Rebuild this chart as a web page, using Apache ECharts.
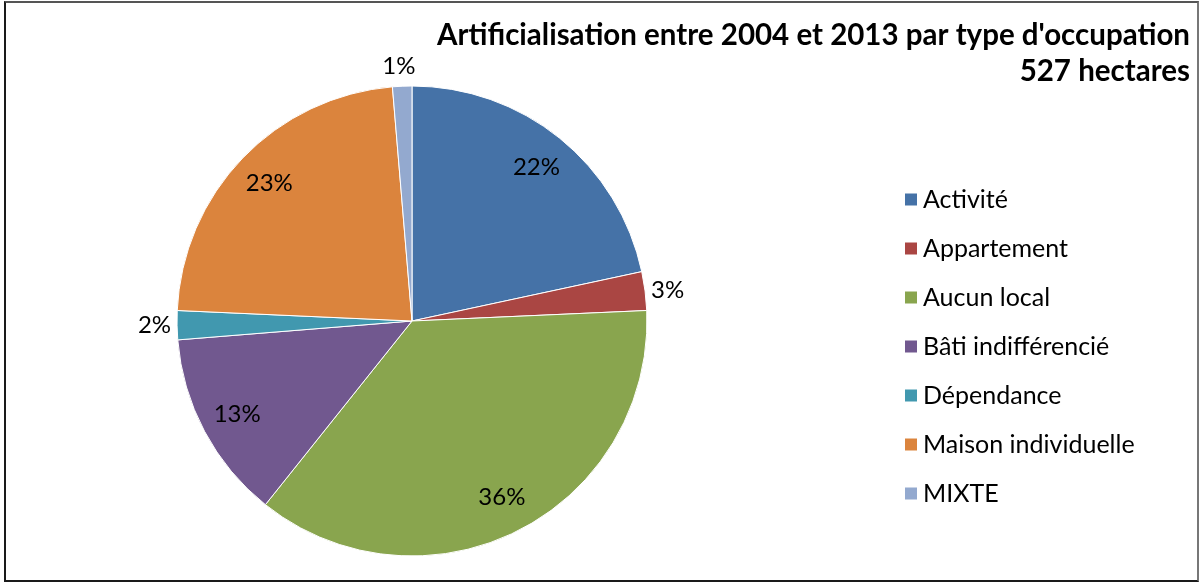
<!DOCTYPE html>
<html>
<head>
<meta charset="utf-8">
<script src="https://cdn.jsdelivr.net/npm/echarts@6/dist/echarts.min.js"></script>
<style>
  html, body { margin: 0; padding: 0; background: #fff; }
  #frame { position: absolute; left: 4px; top: 1px; width: 1191px; height: 577px;
           border: 2px solid #1a1a1a; border-right-color: #777; border-top-color: #555; }
  #pie1 { position: absolute; left: 0; top: 0; width: 1201px; height: 585px; }
</style>
</head>
<body>
<div id="frame"></div>
<div id="pie1"></div>
<script type="text/javascript">
// valeurs en hectares (total 527)
var categories = ['Activité', 'Appartement', 'Aucun local', 'Bâti indifférencié', 'Dépendance', 'Maison individuelle', 'MIXTE'];
var hectares = [114, 14, 192, 68.5, 10.5, 121, 7];
var colors = ['#4572A7', '#AA4643', '#89A54E', '#71588F', '#4198AF', '#DB843D', '#93A9CF'];
var insideLabel = [true, false, true, true, false, true, false];

var fontFam = 'Lato, "Open Sans", sans-serif';
var myChart1 = echarts.init(document.getElementById('pie1'));

var pieData = [], labelData = [];
for (var i = 0; i < categories.length; i++) {
    pieData.push({ name: categories[i], value: hectares[i] });
    var item = {
        name: categories[i],
        value: hectares[i],
        label: insideLabel[i] ? { position: 'inside' } : { position: 'outside' }
    };
    if (categories[i] === 'MIXTE') {
        // étiquette du haut : un peu plus haut et recentrée
        item.labelLine = { show: false, length: 20, length2: -14 };
    }
    labelData.push(item);
}

var option1 = {
    color: colors,
    animation: false,
    title: {
        text: "Artificialisation entre 2004 et 2013 par type d'occupation\n527 hectares",
        left: 1185,
        top: 12,
        textAlign: 'right',
        textStyle: {
            fontFamily: fontFam,
            fontSize: 29.5,
            fontWeight: 'bold',
            color: '#000',
            lineHeight: 36
        }
    },
    legend: {
        orient: 'vertical',
        left: 898,
        top: 182,
        itemWidth: 14,
        itemHeight: 14,
        itemGap: 24,
        icon: 'rect',
        data: categories,
        textStyle: { fontFamily: fontFam, fontSize: 25, color: '#000', lineHeight: 20 }
    },
    series: [
        {
            name: 'surface',
            type: 'pie',
            center: [412, 321],
            radius: [0, 235],
            startAngle: 90,
            clockwise: true,
            label: { show: false },
            labelLine: { show: false },
            itemStyle: { borderColor: '#fff', borderWidth: 1 },
            data: pieData
        },
        {
            // anneau transparent servant à placer les pourcentages
            name: 'labels',
            type: 'pie',
            silent: true,
            center: [412, 321],
            radius: [155, 235],
            startAngle: 90,
            clockwise: true,
            itemStyle: { color: 'rgba(0,0,0,0)' },
            label: {
                show: true,
                fontFamily: fontFam,
                fontSize: 24,
                color: '#000',
                distanceToLabelLine: 0,
                formatter: function (p) { return Math.round(p.percent) + '%'; }
            },
            labelLine: { show: false, length: 6, length2: 0 },
            data: labelData
        }
    ]
};

myChart1.setOption(option1);
</script>
</body>
</html>
